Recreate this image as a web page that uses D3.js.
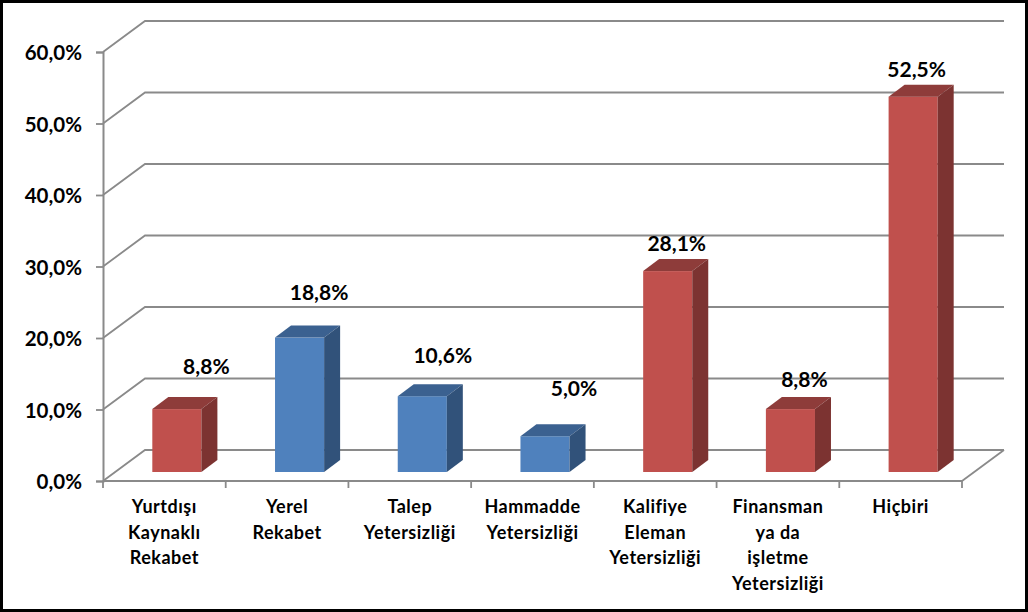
<!DOCTYPE html>
<html>
<head>
<meta charset="utf-8">
<script src="https://cdnjs.cloudflare.com/ajax/libs/d3/7.8.5/d3.min.js"></script>
<style>
    html, body { margin: 0; padding: 0; background: #fff; }
    svg { display: block; }
    text { font-family: Lato, "Open Sans", sans-serif; font-weight: bold; fill: #000; }
</style>
</head>
<body>
<svg id="canvas"></svg>
<script>
"use strict";

const categories = [
    ["Yurtdışı", "Kaynaklı", "Rekabet"],
    ["Yerel", "Rekabet"],
    ["Talep", "Yetersizliği"],
    ["Hammadde", "Yetersizliği"],
    ["Kalifiye", "Eleman", "Yetersizliği"],
    ["Finansman", "ya da", "işletme", "Yetersizliği"],
    ["Hiçbiri"]
];
const values = [8.8, 18.8, 10.6, 5.0, 28.1, 8.8, 52.5];
const groups = ["red", "blue", "blue", "blue", "red", "red", "red"];
const yTicks = [0, 10, 20, 30, 40, 50, 60];

const width = 1028;
const height = 612;

// Colors for front, top and side of the bars
const colors = {
    red: { front: "#c0504d", top: "#8e3c3a", side: "#7c3331" },
    blue: { front: "#4f81bd", top: "#3b6190", side: "#31527a" }
};
const gridColor = "#8a8a8a";

// Plot box (front plane) and how far the back wall is shifted
const plot = { left: 103, right: 962, top: 52, bottom: 481 };
const wall = { dx: 42, dy: -31 };
const barDepth = { dx: 16, dy: -12 };
const barLift = 9; // bars stand a bit behind the front edge of the floor
const barShift = 12.5;

// Hand placed data labels in the original, offset from the bar's top centre
const labelOffsets = [[29.5, -42], [19.5, -45], [20.5, -40], [29, -47], [9, -27], [14, -29], [3.5, -27]];

const canvas = d3.select("#canvas")
    .attr("width", width)
    .attr("height", height);

canvas.append("rect")
    .attr("x", 0)
    .attr("y", 0)
    .attr("width", width)
    .attr("height", height)
    .attr("fill", "#fff")
    .attr("stroke", "#000")
    .attr("stroke-width", 6);

const x = d3.scaleBand()
    .domain(d3.range(categories.length))
    .range([plot.left, plot.right])
    .paddingInner(0.6)
    .paddingOuter(0.3);

const y = d3.scaleLinear()
    .domain([0, 60])
    .range([plot.bottom, plot.top]);

const barBase = plot.bottom - barLift;
const barHeight = v => y(0) - y(v);

// Back wall grid lines with their diagonal on the left wall
canvas.append("g")
    .selectAll("polyline")
    .data(yTicks)
    .join("polyline")
    .attr("points", d => [
        [plot.left, y(d)],
        [plot.left + wall.dx, y(d) + wall.dy],
        [plot.right + wall.dx, y(d) + wall.dy]
    ].join(" "))
    .attr("fill", "none")
    .attr("stroke", gridColor)
    .attr("stroke-width", 1.8);

// Right edge of the floor
canvas.append("line")
    .attr("x1", plot.right)
    .attr("y1", y(0))
    .attr("x2", plot.right + wall.dx)
    .attr("y2", y(0) + wall.dy)
    .attr("stroke", gridColor)
    .attr("stroke-width", 1.8);

// Y axis
const yAxis = canvas.append("g")
    .attr("transform", `translate(${plot.left},0)`)
    .call(d3.axisLeft(y)
        .tickValues(yTicks)
        .tickSize(7)
        .tickPadding(14)
        .tickFormat(d => d.toFixed(1).replace(".", ",") + "%"));
yAxis.select(".domain")
    .attr("stroke", gridColor)
    .attr("stroke-width", 2);
yAxis.selectAll(".tick line")
    .attr("stroke", gridColor)
    .attr("stroke-width", 1.8);
yAxis.selectAll("text")
    .attr("y", 1)
    .style("font-family", "Lato, sans-serif")
    .style("font-weight", "bold")
    .style("font-size", "20.5px");

// X axis line and ticks between the categories
const xAxis = canvas.append("g");
xAxis.append("line")
    .attr("x1", plot.left)
    .attr("x2", plot.right)
    .attr("y1", y(0))
    .attr("y2", y(0))
    .attr("stroke", gridColor)
    .attr("stroke-width", 2);
xAxis.selectAll(".xtick")
    .data(d3.range(categories.length + 1))
    .join("line")
    .attr("class", "xtick")
    .attr("x1", d => plot.left + d * x.step())
    .attr("x2", d => plot.left + d * x.step())
    .attr("y1", y(0))
    .attr("y2", y(0) + 7)
    .attr("stroke", gridColor)
    .attr("stroke-width", 1.8);

// Category labels
const labels = canvas.append("g")
    .selectAll("text")
    .data(categories)
    .join("text")
    .attr("text-anchor", "middle")
    .attr("font-size", "18px")
    .attr("letter-spacing", "0.5px");
labels.selectAll("tspan")
    .data((d, i) => d.map(line => ({ line, i })))
    .join("tspan")
    .attr("x", d => x(d.i) + x.bandwidth() / 2)
    .attr("y", (d, j) => 513 + j * 25.7)
    .text(d => d.line);

// Bars: front, top and side faces
const bars = canvas.append("g")
    .selectAll("g")
    .data(values)
    .join("g")
    .attr("transform", (d, i) => `translate(${x(i) + barShift},${barBase})`);

bars.append("rect")
    .attr("x", 0)
    .attr("y", d => -barHeight(d))
    .attr("width", x.bandwidth())
    .attr("height", d => barHeight(d))
    .attr("fill", (d, i) => colors[groups[i]].front);

bars.append("polygon")
    .attr("points", d => {
        const t = -barHeight(d);
        const w = x.bandwidth();
        return [[0, t], [barDepth.dx, t + barDepth.dy], [w + barDepth.dx, t + barDepth.dy], [w, t]].join(" ");
    })
    .attr("fill", (d, i) => colors[groups[i]].top);

bars.append("polygon")
    .attr("points", d => {
        const t = -barHeight(d);
        const w = x.bandwidth();
        return [[w, t], [w + barDepth.dx, t + barDepth.dy], [w + barDepth.dx, barDepth.dy], [w, 0]].join(" ");
    })
    .attr("fill", (d, i) => colors[groups[i]].side);

// Data labels
canvas.append("g")
    .selectAll("text")
    .data(values)
    .join("text")
    .attr("x", (d, i) => x(i) + barShift + x.bandwidth() / 2 + labelOffsets[i][0])
    .attr("y", (d, i) => barBase - barHeight(d) + labelOffsets[i][1] + 7)
    .attr("text-anchor", "middle")
    .attr("font-size", "21px")
    .text(d => d.toFixed(1).replace(".", ",") + "%");
</script>
</body>
</html>
